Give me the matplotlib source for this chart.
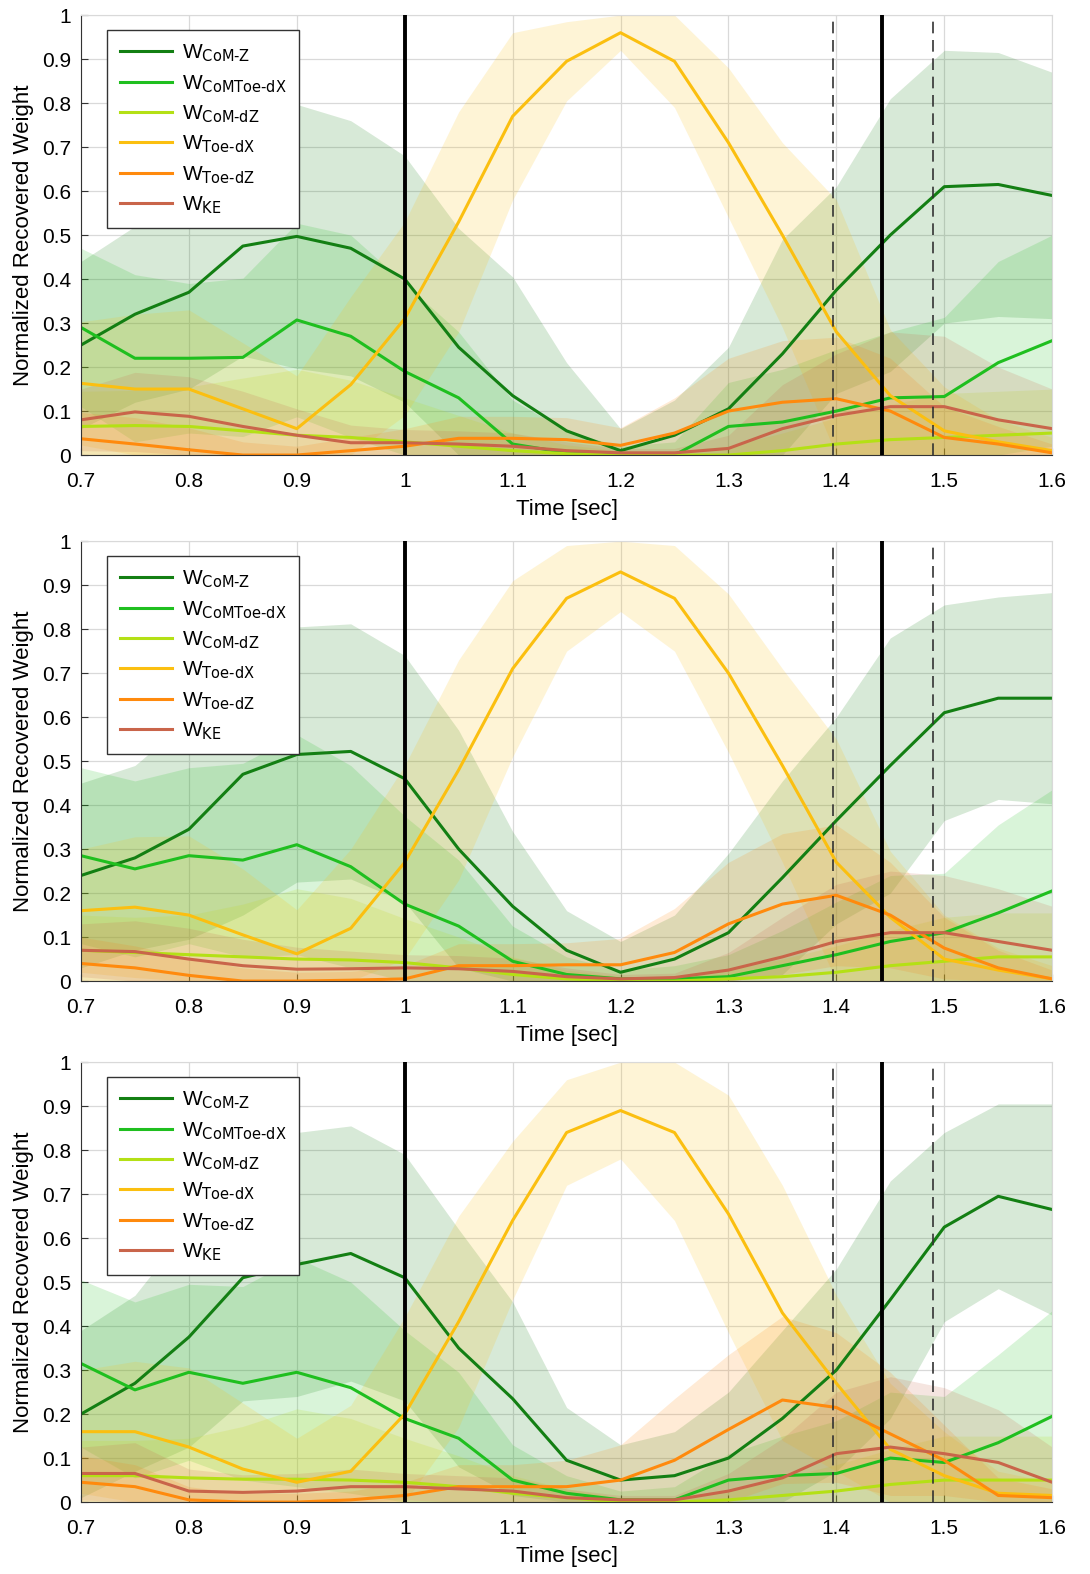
import numpy as np
import matplotlib
matplotlib.use("Agg")
import matplotlib.pyplot as plt
from matplotlib.ticker import FormatStrFormatter, MultipleLocator

plt.rcParams['font.family'] = ['Liberation Sans', 'DejaVu Sans']

time = [0.7, 0.75, 0.8, 0.85, 0.9, 0.95, 1.0, 1.05, 1.1, 1.15, 1.2,
        1.25, 1.3, 1.35, 1.4, 1.45, 1.5, 1.55, 1.6]

labels = [r'W$_{\text{CoM-Z}}$', r'W$_{\text{CoMToe-dX}}$', r'W$_{\text{CoM-dZ}}$',
          r'W$_{\text{Toe-dX}}$', r'W$_{\text{Toe-dZ}}$', r'W$_{\text{KE}}$']
colors = ['#137f13', '#1fbf1f', '#b4e015', '#fbbf10', '#ff8a0d', '#c9654a']

solid_lines = [1.0, 1.4425]
dashed_lines = [1.397, 1.49]

# ---- panel 1 ----
p1_com_z = [0.25, 0.32, 0.37, 0.475, 0.497, 0.47, 0.40, 0.245, 0.135, 0.055, 0.01,
            0.045, 0.105, 0.23, 0.375, 0.50, 0.61, 0.615, 0.59]
p1_com_z_sd = [0.19, 0.2, 0.22, 0.25, 0.30, 0.29, 0.28, 0.27, 0.27, 0.155, 0.05,
               0.08, 0.14, 0.26, 0.235, 0.31, 0.31, 0.30, 0.28]
p1_comtoe_dx = [0.29, 0.22, 0.22, 0.222, 0.307, 0.27, 0.19, 0.13, 0.025, 0.005, 0.0,
                0.0, 0.065, 0.075, 0.10, 0.13, 0.133, 0.21, 0.26]
p1_comtoe_dx_sd = [0.18, 0.19, 0.17, 0.18, 0.22, 0.23, 0.2, 0.15, 0.1, 0.05, 0.02,
                   0.03, 0.1, 0.12, 0.14, 0.15, 0.18, 0.23, 0.24]
p1_com_dz = [0.065, 0.067, 0.065, 0.055, 0.045, 0.04, 0.03, 0.02, 0.01, 0.003, 0.0,
             0.0, 0.0, 0.01, 0.025, 0.035, 0.04, 0.045, 0.05]
p1_com_dz_sd = [0.08, 0.08, 0.09, 0.12, 0.15, 0.13, 0.1, 0.07, 0.04, 0.02, 0.01,
                0.01, 0.02, 0.04, 0.06, 0.08, 0.1, 0.1, 0.1]
p1_toe_dx = [0.163, 0.15, 0.15, 0.105, 0.06, 0.16, 0.31, 0.53, 0.77, 0.895, 0.96,
             0.895, 0.71, 0.50, 0.28, 0.135, 0.055, 0.03, 0.01]
p1_toe_dx_sd = [0.14, 0.17, 0.18, 0.15, 0.12, 0.2, 0.22, 0.25, 0.19, 0.09, 0.04,
                0.105, 0.17, 0.21, 0.3, 0.15, 0.1, 0.05, 0.03]
p1_toe_dz = [0.037, 0.025, 0.012, 0.0, 0.0, 0.01, 0.02, 0.038, 0.038, 0.035, 0.022,
             0.05, 0.10, 0.12, 0.128, 0.10, 0.04, 0.025, 0.005]
p1_toe_dz_sd = [0.06, 0.06, 0.05, 0.03, 0.02, 0.03, 0.04, 0.05, 0.05, 0.05, 0.04,
                0.08, 0.12, 0.14, 0.14, 0.12, 0.07, 0.04, 0.02]
p1_ke = [0.08, 0.098, 0.088, 0.065, 0.045, 0.028, 0.028, 0.025, 0.02, 0.01, 0.005,
         0.005, 0.015, 0.06, 0.09, 0.11, 0.11, 0.08, 0.06]
p1_ke_sd = [0.07, 0.09, 0.09, 0.08, 0.06, 0.04, 0.03, 0.03, 0.03, 0.02, 0.01,
            0.01, 0.03, 0.1, 0.14, 0.17, 0.16, 0.12, 0.09]

# ---- panel 2 ----
p2_com_z = [0.24, 0.28, 0.345, 0.47, 0.515, 0.522, 0.46, 0.30, 0.17, 0.07, 0.02,
            0.05, 0.11, 0.235, 0.365, 0.49, 0.61, 0.643, 0.643]
p2_com_z_sd = [0.21, 0.21, 0.25, 0.32, 0.29, 0.29, 0.28, 0.27, 0.17, 0.09, 0.07,
               0.1, 0.18, 0.22, 0.235, 0.29, 0.245, 0.23, 0.24]
p2_comtoe_dx = [0.285, 0.255, 0.285, 0.275, 0.31, 0.26, 0.175, 0.125, 0.045, 0.015, 0.005,
                0.005, 0.01, 0.035, 0.06, 0.09, 0.11, 0.155, 0.205]
p2_comtoe_dx_sd = [0.2, 0.2, 0.2, 0.22, 0.25, 0.23, 0.2, 0.15, 0.08, 0.04, 0.02,
                   0.03, 0.05, 0.08, 0.12, 0.15, 0.135, 0.2, 0.23]
p2_com_dz = [0.07, 0.065, 0.06, 0.055, 0.05, 0.048, 0.042, 0.03, 0.015, 0.005, 0.0,
             0.0, 0.005, 0.01, 0.02, 0.035, 0.045, 0.055, 0.055]
p2_com_dz_sd = [0.08, 0.08, 0.09, 0.12, 0.16, 0.14, 0.1, 0.07, 0.04, 0.02, 0.01,
                0.01, 0.02, 0.04, 0.06, 0.08, 0.1, 0.1, 0.1]
p2_toe_dx = [0.16, 0.168, 0.15, 0.105, 0.062, 0.12, 0.27, 0.48, 0.71, 0.87, 0.93,
             0.87, 0.70, 0.49, 0.27, 0.145, 0.05, 0.025, 0.005]
p2_toe_dx_sd = [0.14, 0.16, 0.18, 0.15, 0.1, 0.18, 0.22, 0.25, 0.2, 0.12, 0.09,
                0.12, 0.18, 0.22, 0.28, 0.15, 0.1, 0.05, 0.03]
p2_toe_dz = [0.04, 0.03, 0.013, 0.0, 0.0, 0.002, 0.005, 0.035, 0.035, 0.037, 0.037,
             0.065, 0.13, 0.175, 0.195, 0.15, 0.075, 0.03, 0.005]
p2_toe_dz_sd = [0.06, 0.05, 0.04, 0.03, 0.02, 0.02, 0.03, 0.05, 0.05, 0.05, 0.06,
                0.1, 0.14, 0.16, 0.16, 0.12, 0.07, 0.04, 0.02]
p2_ke = [0.07, 0.067, 0.05, 0.035, 0.027, 0.028, 0.03, 0.028, 0.022, 0.01, 0.005,
         0.008, 0.025, 0.055, 0.09, 0.11, 0.11, 0.09, 0.07]
p2_ke_sd = [0.06, 0.07, 0.07, 0.06, 0.05, 0.04, 0.03, 0.03, 0.03, 0.02, 0.01,
            0.01, 0.04, 0.09, 0.13, 0.14, 0.13, 0.12, 0.1]

# ---- panel 3 ----
p3_com_z = [0.20, 0.27, 0.375, 0.51, 0.54, 0.565, 0.51, 0.35, 0.235, 0.095, 0.05,
            0.06, 0.10, 0.19, 0.30, 0.46, 0.625, 0.695, 0.665]
p3_com_z_sd = [0.19, 0.2, 0.25, 0.28, 0.3, 0.29, 0.28, 0.27, 0.22, 0.12, 0.08,
               0.1, 0.15, 0.2, 0.23, 0.27, 0.215, 0.21, 0.24]
p3_comtoe_dx = [0.315, 0.255, 0.295, 0.27, 0.295, 0.26, 0.19, 0.145, 0.05, 0.02, 0.005,
                0.005, 0.05, 0.06, 0.065, 0.10, 0.09, 0.135, 0.195]
p3_comtoe_dx_sd = [0.19, 0.2, 0.2, 0.22, 0.26, 0.24, 0.2, 0.15, 0.08, 0.04, 0.02,
                   0.03, 0.06, 0.09, 0.12, 0.15, 0.15, 0.2, 0.24]
p3_com_dz = [0.06, 0.06, 0.055, 0.052, 0.052, 0.05, 0.045, 0.035, 0.02, 0.01, 0.0,
             0.0, 0.005, 0.015, 0.025, 0.04, 0.05, 0.05, 0.05]
p3_com_dz_sd = [0.08, 0.08, 0.09, 0.12, 0.16, 0.14, 0.1, 0.07, 0.04, 0.02, 0.01,
                0.01, 0.02, 0.04, 0.06, 0.08, 0.1, 0.1, 0.1]
p3_toe_dx = [0.16, 0.16, 0.125, 0.075, 0.045, 0.07, 0.20, 0.41, 0.64, 0.84, 0.89,
             0.84, 0.655, 0.43, 0.27, 0.12, 0.06, 0.02, 0.015]
p3_toe_dx_sd = [0.14, 0.16, 0.18, 0.15, 0.1, 0.15, 0.22, 0.24, 0.18, 0.12, 0.11,
                0.2, 0.27, 0.29, 0.2, 0.15, 0.1, 0.05, 0.03]
p3_toe_dz = [0.045, 0.035, 0.005, 0.0, 0.0, 0.005, 0.015, 0.035, 0.035, 0.035, 0.05,
             0.095, 0.165, 0.232, 0.215, 0.155, 0.095, 0.015, 0.01]
p3_toe_dz_sd = [0.06, 0.05, 0.03, 0.02, 0.02, 0.02, 0.03, 0.05, 0.05, 0.06, 0.08,
                0.14, 0.17, 0.19, 0.17, 0.14, 0.08, 0.04, 0.02]
p3_ke = [0.065, 0.065, 0.025, 0.022, 0.025, 0.035, 0.035, 0.03, 0.025, 0.01, 0.005,
         0.005, 0.025, 0.055, 0.11, 0.125, 0.11, 0.09, 0.045]
p3_ke_sd = [0.06, 0.07, 0.05, 0.04, 0.04, 0.04, 0.03, 0.03, 0.03, 0.02, 0.01,
            0.01, 0.04, 0.09, 0.14, 0.16, 0.15, 0.12, 0.08]

panels = [
    [(p1_com_z, p1_com_z_sd), (p1_comtoe_dx, p1_comtoe_dx_sd), (p1_com_dz, p1_com_dz_sd),
     (p1_toe_dx, p1_toe_dx_sd), (p1_toe_dz, p1_toe_dz_sd), (p1_ke, p1_ke_sd)],
    [(p2_com_z, p2_com_z_sd), (p2_comtoe_dx, p2_comtoe_dx_sd), (p2_com_dz, p2_com_dz_sd),
     (p2_toe_dx, p2_toe_dx_sd), (p2_toe_dz, p2_toe_dz_sd), (p2_ke, p2_ke_sd)],
    [(p3_com_z, p3_com_z_sd), (p3_comtoe_dx, p3_comtoe_dx_sd), (p3_com_dz, p3_com_dz_sd),
     (p3_toe_dx, p3_toe_dx_sd), (p3_toe_dz, p3_toe_dz_sd), (p3_ke, p3_ke_sd)],
]

fig = plt.figure(figsize=(10.9, 15.74), dpi=100)
bottoms = [0.7109, 0.3767, 0.0457]
t = np.array(time)

for bottom, series in zip(bottoms, panels):
    ax = fig.add_axes([0.0743, bottom, 0.891, 0.2795])
    # shaded spread first, then mean lines on top
    for (mean, sd), c in zip(series, colors):
        m = np.array(mean)
        s = np.array(sd)
        ax.fill_between(t, np.clip(m - s, 0, 1), np.clip(m + s, 0, 1),
                        color=c, alpha=0.17, linewidth=0)
    for (mean, sd), c, lab in zip(series, colors, labels):
        ax.plot(t, mean, color=c, lw=2.2, label=lab)

    for x in solid_lines:
        ax.axvline(x, color='black', lw=2.8, zorder=5)
    for x in dashed_lines:
        ax.axvline(x, color='#333333', lw=1.2, ls=(0, (7, 4)), zorder=5)

    ax.set_xlim(0.7, 1.6)
    ax.set_ylim(0, 1)
    ax.xaxis.set_major_locator(MultipleLocator(0.1))
    ax.yaxis.set_major_locator(MultipleLocator(0.1))
    ax.xaxis.set_major_formatter(FormatStrFormatter('%g'))
    ax.yaxis.set_major_formatter(FormatStrFormatter('%g'))
    ax.grid(True, color='#d9d9d9', lw=0.9)
    ax.set_axisbelow(True)
    ax.tick_params(direction='in', length=5, labelsize=15, color='#333333')
    ax.tick_params(axis='x', pad=12)
    ax.tick_params(axis='y', pad=7)
    for side in ['top', 'right']:
        ax.spines[side].set_color('#d9d9d9')
    for side in ['left', 'bottom']:
        ax.spines[side].set_color('#333333')
    ax.set_xlabel('Time [sec]', fontsize=16, labelpad=6)
    ax.set_ylabel('Normalized Recovered Weight', fontsize=16, labelpad=6)

    leg = ax.legend(loc='upper left', bbox_to_anchor=(0.027, 0.966), borderaxespad=0,
                    fontsize=15, fancybox=False, edgecolor='#333333', framealpha=1,
                    handlelength=2.5, labelspacing=0.42, borderpad=0.6,
                    handletextpad=0.5)
    leg.get_frame().set_linewidth(1.0)

plt.savefig("out.png", dpi=100)
